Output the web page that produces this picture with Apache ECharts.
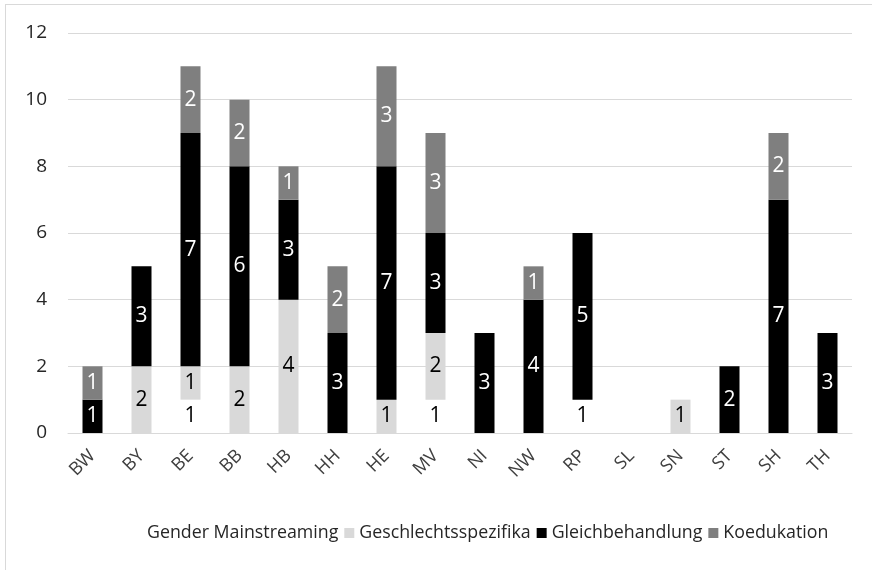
<!DOCTYPE html>
<html>
<head>
<meta charset="utf-8">
<script src="https://cdn.jsdelivr.net/npm/echarts@6/dist/echarts.min.js"></script>
<style>
html, body { margin: 0; padding: 0; background: #fff; }
#frame {
  position: absolute; left: 5px; top: 4px; width: 900px; height: 600px;
  border-left: 1px solid #d9d9d9; border-top: 1px solid #d9d9d9;
}
#chart { position: absolute; left: 0; top: 0; width: 872px; height: 570px; }
</style>
</head>
<body>
<div id="frame"></div>
<div id="chart"></div>
<script>
// categories (Bundeslaender)
var laender = ['BW', 'BY', 'BE', 'BB', 'HB', 'HH', 'HE', 'MV', 'NI', 'NW', 'RP', 'SL', 'SN', 'ST', 'SH', 'TH']

// series values, null = no segment
var genderMainstreaming = [null, null, 1, null, null, null, null, 1, null, null, 1, null, null, null, null, null]
var geschlechtsspezifika = [null, 2, 1, 2, 4, null, 1, 2, null, null, null, null, 1, null, null, null]
var gleichbehandlung = [1, 3, 7, 6, 3, 3, 7, 3, 3, 4, 5, null, null, 2, 7, 3]
var koedukation = [1, null, 2, 2, 1, 2, 3, 3, null, 1, null, null, null, null, 2, null]

var font = 'Open Sans'

function bar(name, data, fill, textColor) {
  return {
    name: name,
    type: 'bar',
    stack: 'total',
    barWidth: 20,
    data: data,
    itemStyle: { color: fill },
    label: {
      show: true,
      position: 'inside',
      color: textColor,
      fontFamily: font,
      fontSize: 21
    }
  }
}

var myChart = echarts.init(document.getElementById('chart'))
var option = {
  animation: false,
  textStyle: { fontFamily: font },
  grid: { left: 68, right: 20, top: 33, bottom: 137 },
  legend: {
    bottom: 23,
    left: 127,
    itemWidth: 10,
    itemHeight: 10,
    itemGap: 6,
    icon: 'rect',
    textStyle: { color: '#262626', fontSize: 17.8, fontFamily: font },
    data: ['Gender Mainstreaming', 'Geschlechtsspezifika', 'Gleichbehandlung', 'Koedukation']
  },
  xAxis: {
    type: 'category',
    data: laender,
    axisLine: { lineStyle: { color: '#d9d9d9', width: 1 } },
    axisTick: { show: false },
    axisLabel: {
      rotate: 45,
      align: 'right',
      verticalAlign: 'middle',
      color: '#404040',
      fontSize: 18,
      margin: 20,
      fontFamily: font
    }
  },
  yAxis: {
    type: 'value',
    min: 0,
    max: 12,
    interval: 2,
    axisLine: { show: false },
    axisTick: { show: false },
    splitLine: { lineStyle: { color: '#d9d9d9', width: 1 } },
    axisLabel: { color: '#262626', fontSize: 19, margin: 21, fontFamily: font }
  },
  series: [
    bar('Gender Mainstreaming', genderMainstreaming, '#ffffff', '#000000'),
    bar('Geschlechtsspezifika', geschlechtsspezifika, '#d9d9d9', '#000000'),
    bar('Gleichbehandlung', gleichbehandlung, '#000000', '#ffffff'),
    bar('Koedukation', koedukation, '#7f7f7f', '#ffffff')
  ]
}
myChart.setOption(option)
</script>
</body>
</html>
